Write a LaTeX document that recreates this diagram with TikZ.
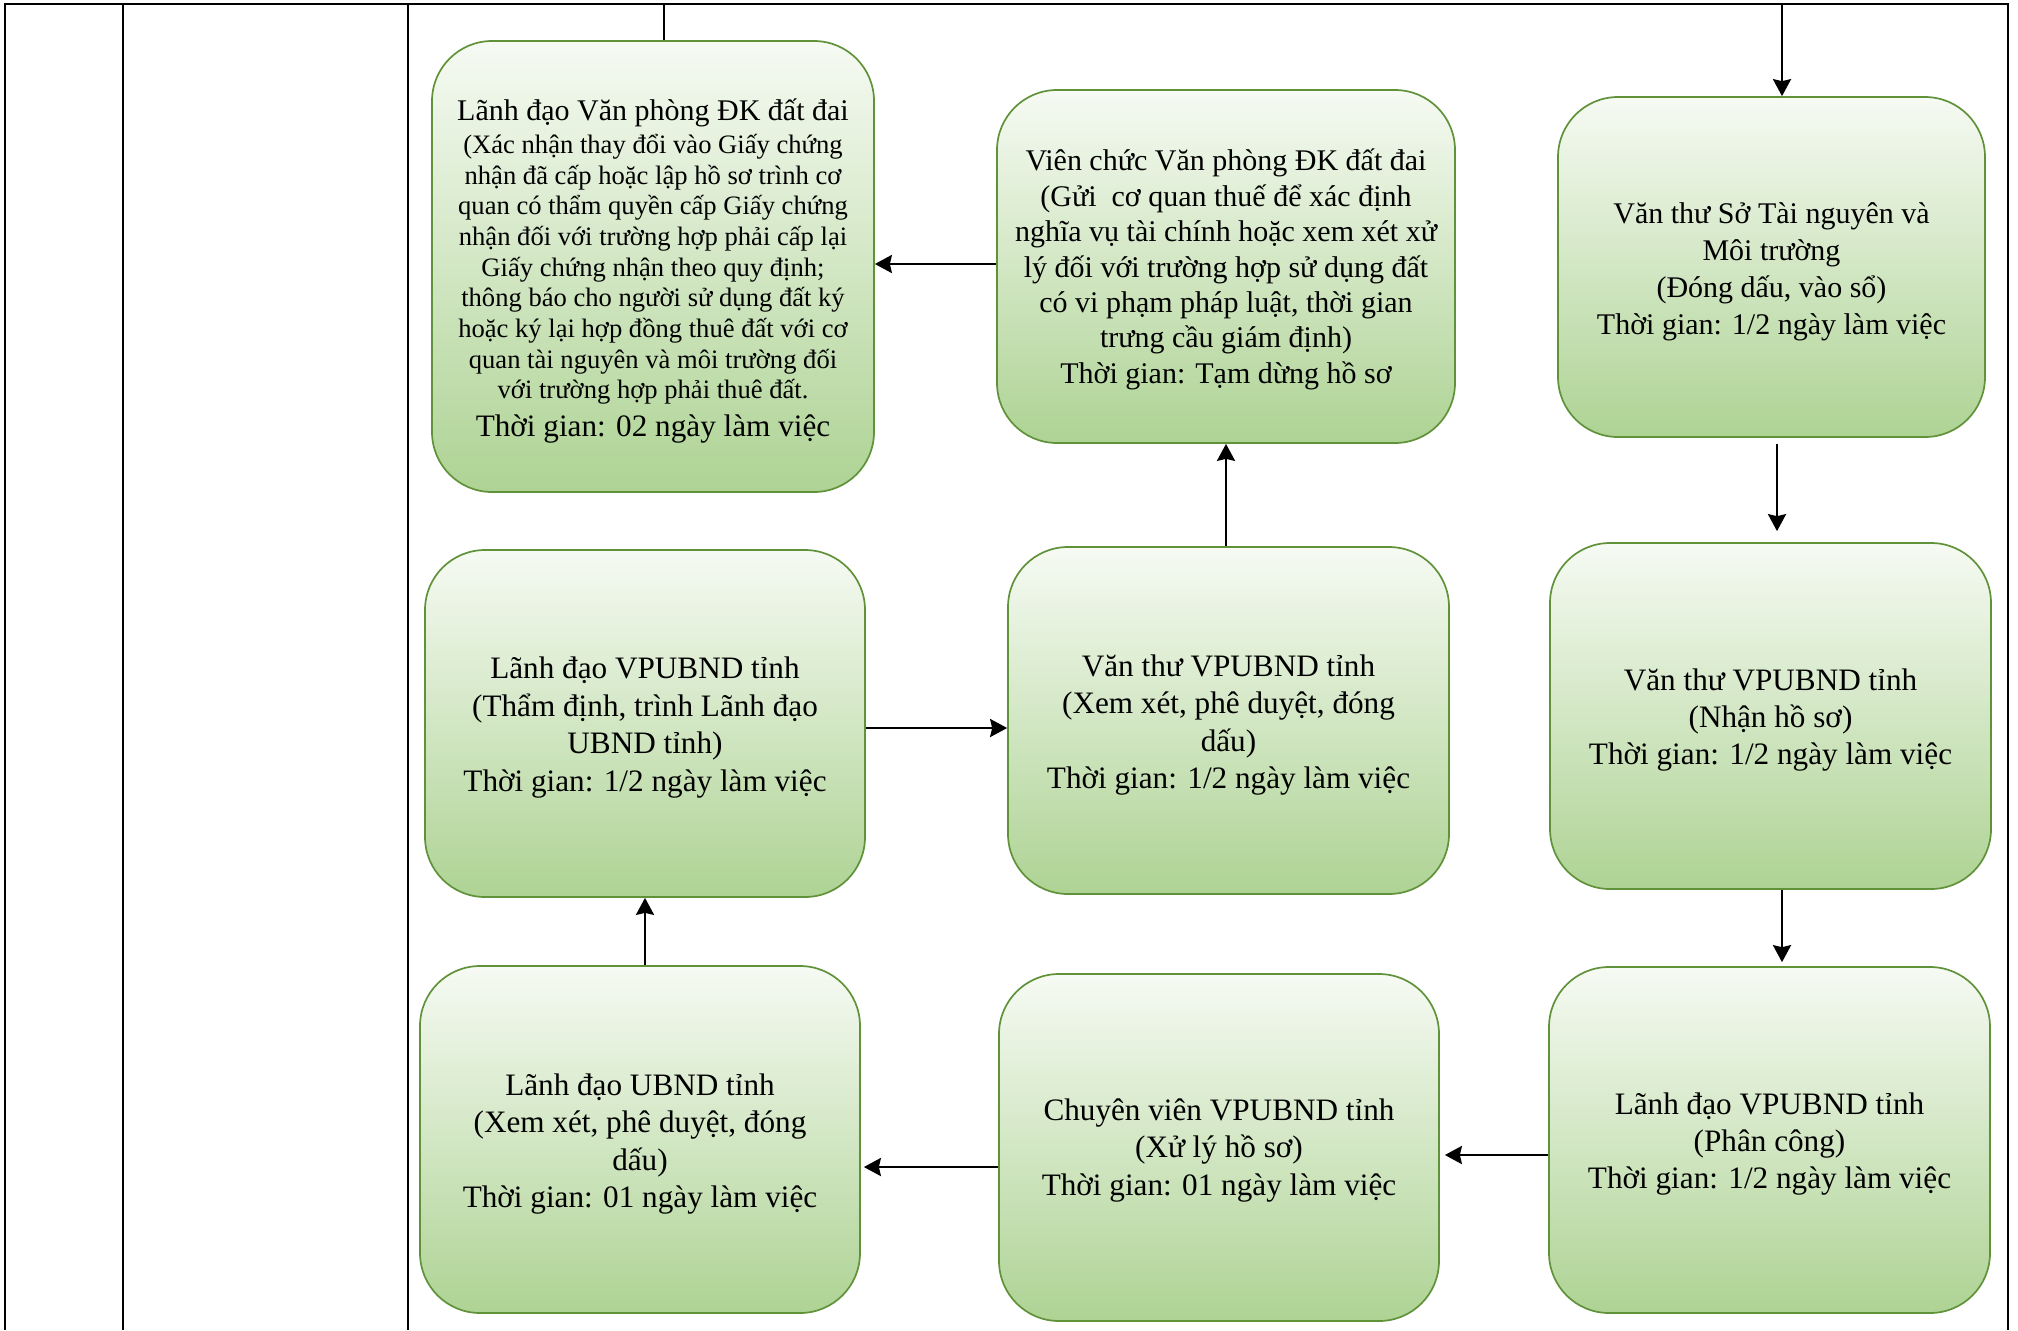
\documentclass[tikz,border=0pt]{standalone}
\usepackage{fontspec}
\setmainfont{Liberation Serif}
\usetikzlibrary{arrows.meta}
\definecolor{boxtop}{RGB}{246,250,243}
\definecolor{boxbot}{RGB}{174,211,148}
\definecolor{boxline}{RGB}{96,146,58}
\newcommand{\bigf}{\fontsize{15.6}{18.7}\selectfont}
\newcommand{\midf}{\fontsize{15}{17.7}\selectfont}
\newcommand{\smallf}{\fontsize{13.3}{15.35}\selectfont}
\tikzset{
  flowbox/.style={draw=boxline, line width=0.85pt, rounded corners=30pt,
    top color=boxtop, bottom color=boxbot, inner sep=0pt},
  boxtext/.style={align=center, inner sep=0pt},
  conn/.style={line width=1.3pt, -{Stealth[length=8.5pt,width=9pt,inset=1pt]}},
  plainline/.style={line width=1pt},
  tabline/.style={line width=1.3pt}
}
\begin{document}
\begin{tikzpicture}[x=0.5pt,y=-0.5pt]
\useasboundingbox (0,0) rectangle (2018,1330);
% table frame
\draw[tabline] (5,1330) -- (5,4) -- (2008,4) -- (2008,1330);
\draw[tabline] (123,4) -- (123,1330);
\draw[tabline] (408,4) -- (408,1330);
% boxes
\node[flowbox, minimum width=221pt, minimum height=225.5pt] (A) at (653,266.5) {};
\node[boxtext, font=\smallf] (At) at ([yshift=-2.2pt]A.center)
 {{\fontsize{15}{18}\selectfont Lãnh đạo Văn phòng ĐK đất đai}\\[1.2pt]
  (Xác nhận thay đổi vào Giấy chứng\\
  nhận đã cấp hoặc lập hồ sơ trình cơ\\
  quan có thẩm quyền cấp Giấy chứng\\
  nhận đối với trường hợp phải cấp lại\\
  Giấy chứng nhận theo quy định;\\
  thông báo cho người sử dụng đất ký\\
  hoặc ký lại hợp đồng thuê đất với cơ\\
  quan tài nguyên và môi trường đối\\
  với trường hợp phải thuê đất.\\[3.5pt]
  {\fontsize{15.6}{18}\selectfont Thời gian: 02 ngày làm việc}};
\node[flowbox, minimum width=229pt, minimum height=176.5pt] (B) at (1226,266.5) {};
\node[boxtext, font=\midf] (Bt) at ([yshift=-1.5pt]B.center)
 {Viên chức Văn phòng ĐK đất đai\\
  (Gửi\ \ cơ quan thuế để xác định\\
  nghĩa vụ tài chính hoặc xem xét xử\\
  lý đối với trường hợp sử dụng đất\\
  có vi phạm pháp luật, thời gian\\
  trưng cầu giám định)\\
  Thời gian: Tạm dừng hồ sơ};
\node[flowbox, minimum width=213.5pt, minimum height=170pt] (C) at (1771.5,267) {};
\node[boxtext, font=\fontsize{15}{18.5}\selectfont] (Ct) at ([yshift=-2.2pt]C.center)
 {Văn thư Sở Tài nguyên và\\ Môi trường\\ (Đóng dấu, vào sổ)\\ Thời gian: 1/2 ngày làm việc};
\node[flowbox, minimum width=220pt, minimum height=173.5pt] (D) at (645,723.5) {};
\node[boxtext, font=\bigf] (Dt) at ([yshift=-2pt]D.center)
 {Lãnh đạo VPUBND tỉnh\\ (Thẩm định, trình Lãnh đạo\\ UBND tỉnh)\\ Thời gian: 1/2 ngày làm việc};
\node[flowbox, minimum width=220.5pt, minimum height=173.5pt] (E) at (1228.5,720.5) {};
\node[boxtext, font=\bigf] (Et) at ([yshift=-2.2pt]E.center)
 {Văn thư VPUBND tỉnh\\ (Xem xét, phê duyệt, đóng\\ dấu)\\ Thời gian: 1/2 ngày làm việc};
\node[flowbox, minimum width=220.5pt, minimum height=173pt] (F) at (1770.5,716) {};
\node[boxtext, font=\bigf] (Ft) at ([yshift=-2pt]F.center)
 {Văn thư VPUBND tỉnh\\ (Nhận hồ sơ)\\ Thời gian: 1/2 ngày làm việc};
\node[flowbox, minimum width=220pt, minimum height=173.5pt] (G) at (640,1139.5) {};
\node[boxtext, font=\bigf] (Gt) at ([yshift=-2.2pt]G.center)
 {Lãnh đạo UBND tỉnh\\ (Xem xét, phê duyệt, đóng\\ dấu)\\ Thời gian: 01 ngày làm việc};
\node[flowbox, minimum width=220pt, minimum height=173.5pt] (H) at (1219,1147.5) {};
\node[boxtext, font=\bigf] (Ht) at ([yshift=-1.3pt]H.center)
 {Chuyên viên VPUBND tỉnh\\ (Xử lý hồ sơ)\\ Thời gian: 01 ngày làm việc};
\node[flowbox, minimum width=220.5pt, minimum height=173pt] (I) at (1769.5,1140) {};
\node[boxtext, font=\bigf] (It) at ([yshift=-2pt]I.center)
 {Lãnh đạo VPUBND tỉnh\\ (Phân công)\\ Thời gian: 1/2 ngày làm việc};
% connectors
\coordinate (topA) at (664,4);
\draw[plainline] (topA) -- (topA |- A.north);
\coordinate (topC) at (1782,4);
\draw[conn] (topC) -- (topC |- C.north);
\coordinate (cf) at (1777,0);
\draw[conn, shorten <=3pt, shorten >=5.5pt] (cf |- C.south) -- (cf |- F.north);
\coordinate (fi) at (1782,0);
\draw[conn, shorten >=2pt] (fi |- F.south) -- (fi |- I.north);
\coordinate (ih) at (0,1155);
\draw[conn, shorten >=2.5pt] (ih -| I.west) -- (ih -| H.east);
\coordinate (hg) at (0,1167);
\draw[conn, shorten >=1.5pt] (hg -| H.west) -- (hg -| G.east);
\coordinate (gd) at (645,0);
\draw[conn] (gd |- G.north) -- (gd |- D.south);
\coordinate (de) at (0,728);
\draw[conn] (de -| D.east) -- (de -| E.west);
\coordinate (eb) at (1226,0);
\draw[conn] (eb |- E.north) -- (eb |- B.south);
\coordinate (ba) at (0,264);
\draw[conn] (ba -| B.west) -- (ba -| A.east);
\end{tikzpicture}
\end{document}
